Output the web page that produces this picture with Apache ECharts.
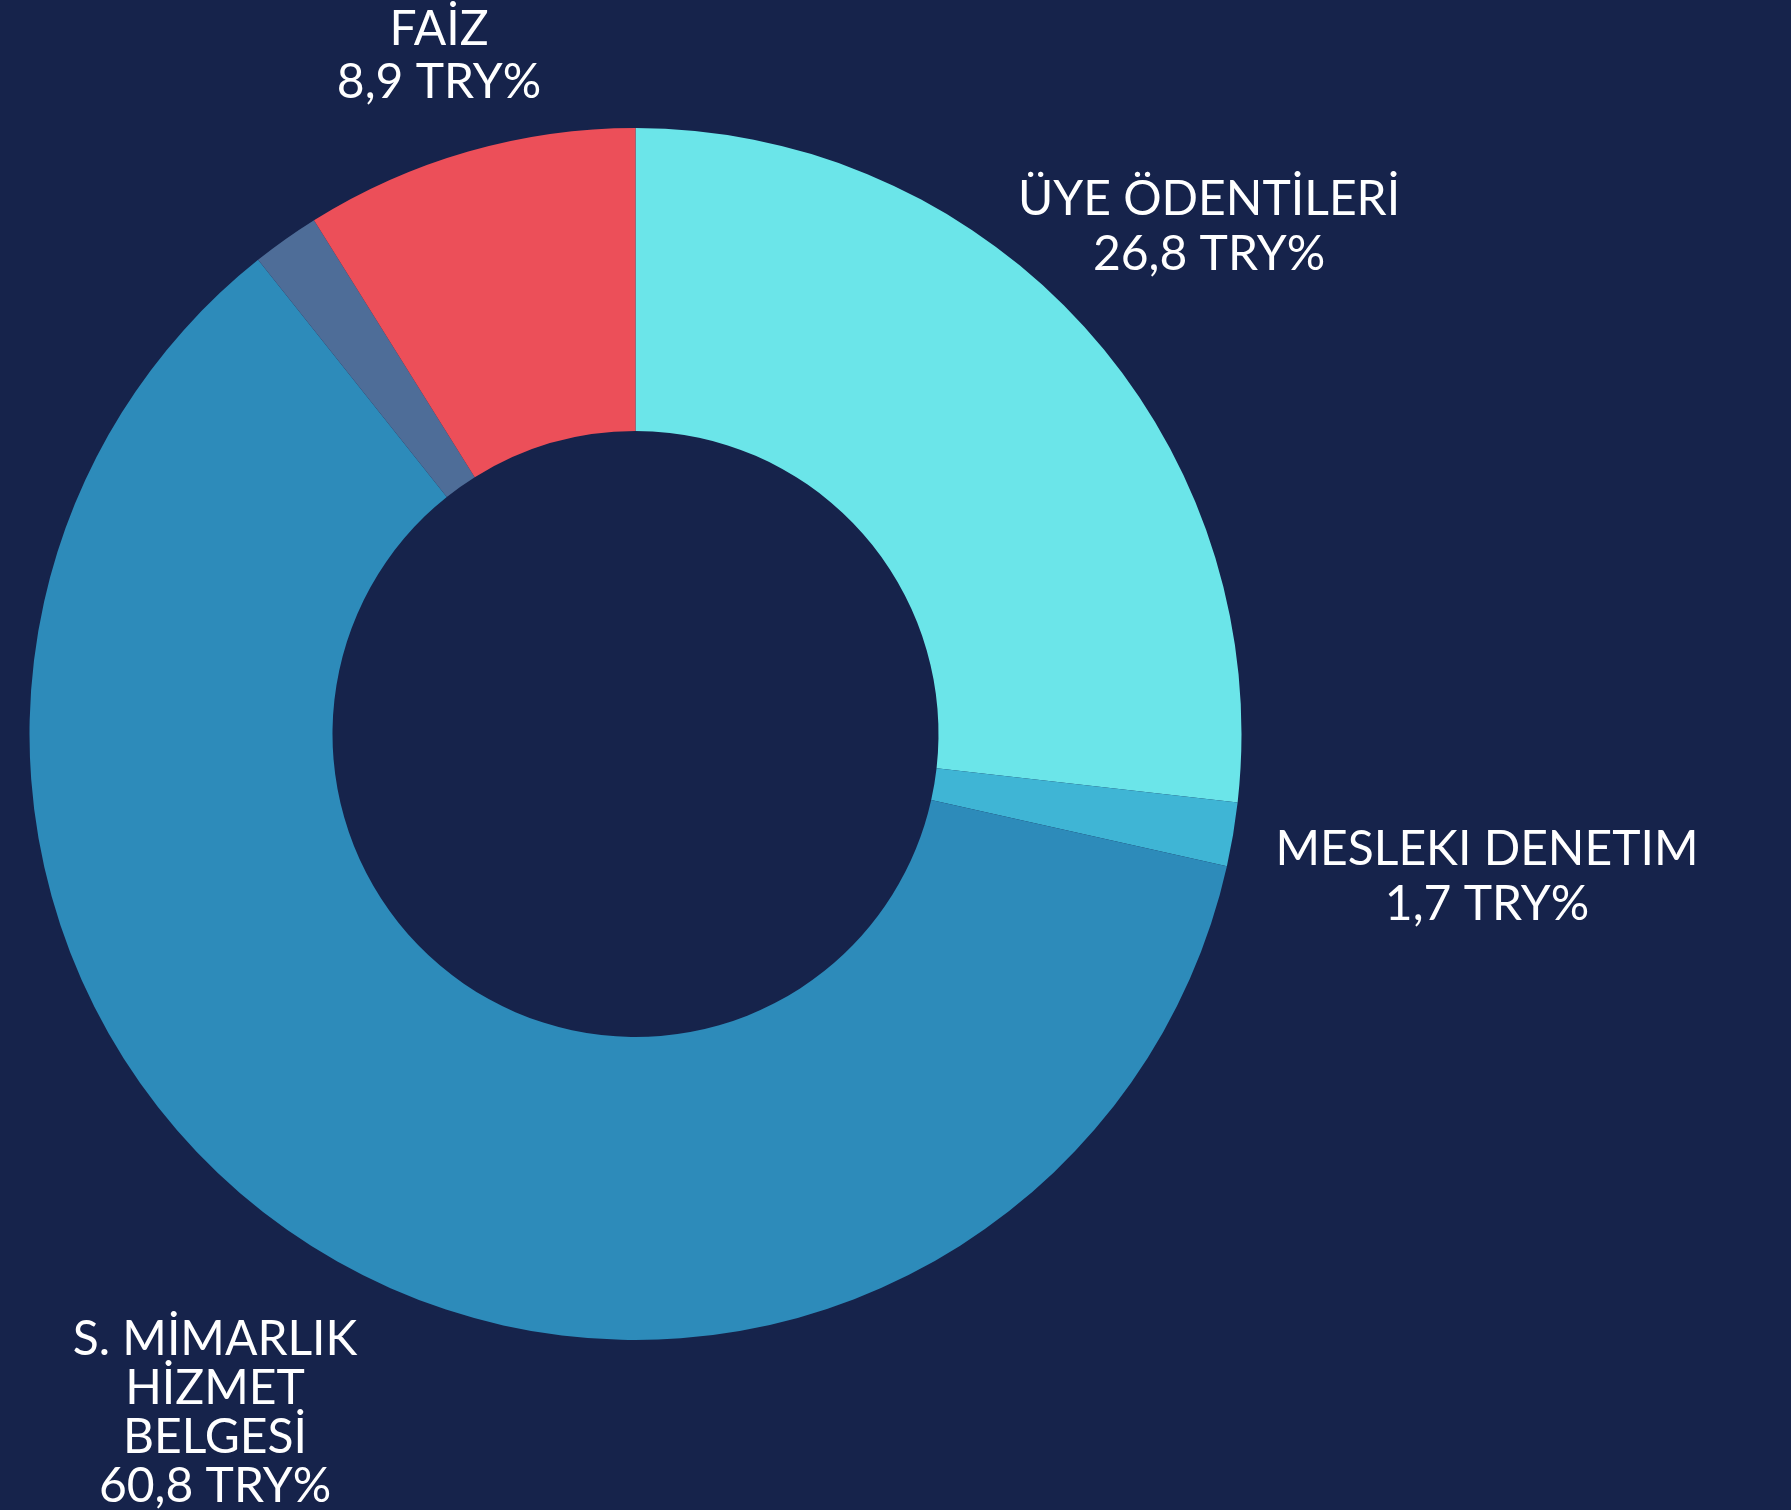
<!DOCTYPE html>
<html>
<head>
<meta charset="utf-8">
<script src="https://cdn.jsdelivr.net/npm/echarts@6/dist/echarts.min.js"></script>
<style>
html,body{margin:0;padding:0;background:#16234B;}
#c{width:1791px;height:1510px;}
</style>
</head>
<body>
<div id="c"></div>
<script>
const categories = ['ÜYE ÖDENTİLERİ', 'MESLEKI DENETIM', 'S. MİMARLIK\nHİZMET\nBELGESİ', 'DİĞER', 'FAİZ'];
const values = [26.8, 1.7, 60.8, 1.8, 8.9];
const showLabel = [true, true, true, false, true];
const colors = ['#6BE5E9', '#3FB5D5', '#2D8BBA', '#4E6D98', '#EC4F59'];
const unit = ' TRY%';

// label anchor positions (layout only)
const labelPos = [[1209, 227], [1487, 877], [215, 1413], [0, 0], [439, 56]];
const labelLH = [55, 55, 49, 55, 53];

const chart = echarts.init(document.getElementById('c'));
chart.setOption({
  backgroundColor: '#16234B',
  animation: false,
  series: [{
    type: 'pie',
    center: [635.5, 734],
    radius: [303, 606],
    startAngle: 90,
    clockwise: true,
    avoidLabelOverlap: false,
    label: {
      show: true,
      position: 'outside',
      color: '#FFFFFF',
      fontFamily: 'Lato',
      fontSize: 48,
      align: 'center',
      formatter: p => p.name + '\n' + p.value.toFixed(1).replace('.', ',') + unit
    },
    labelLine: { show: false },
    labelLayout: p => ({
      x: labelPos[p.dataIndex][0],
      y: labelPos[p.dataIndex][1],
      align: 'center',
      verticalAlign: 'middle'
    }),
    itemStyle: { borderWidth: 0 },
    emphasis: { disabled: true },
    data: categories.map((c, i) => ({
      name: c,
      value: values[i],
      itemStyle: { color: colors[i] },
      label: { show: showLabel[i], lineHeight: labelLH[i] }
    }))
  }]
});
</script>
</body>
</html>
